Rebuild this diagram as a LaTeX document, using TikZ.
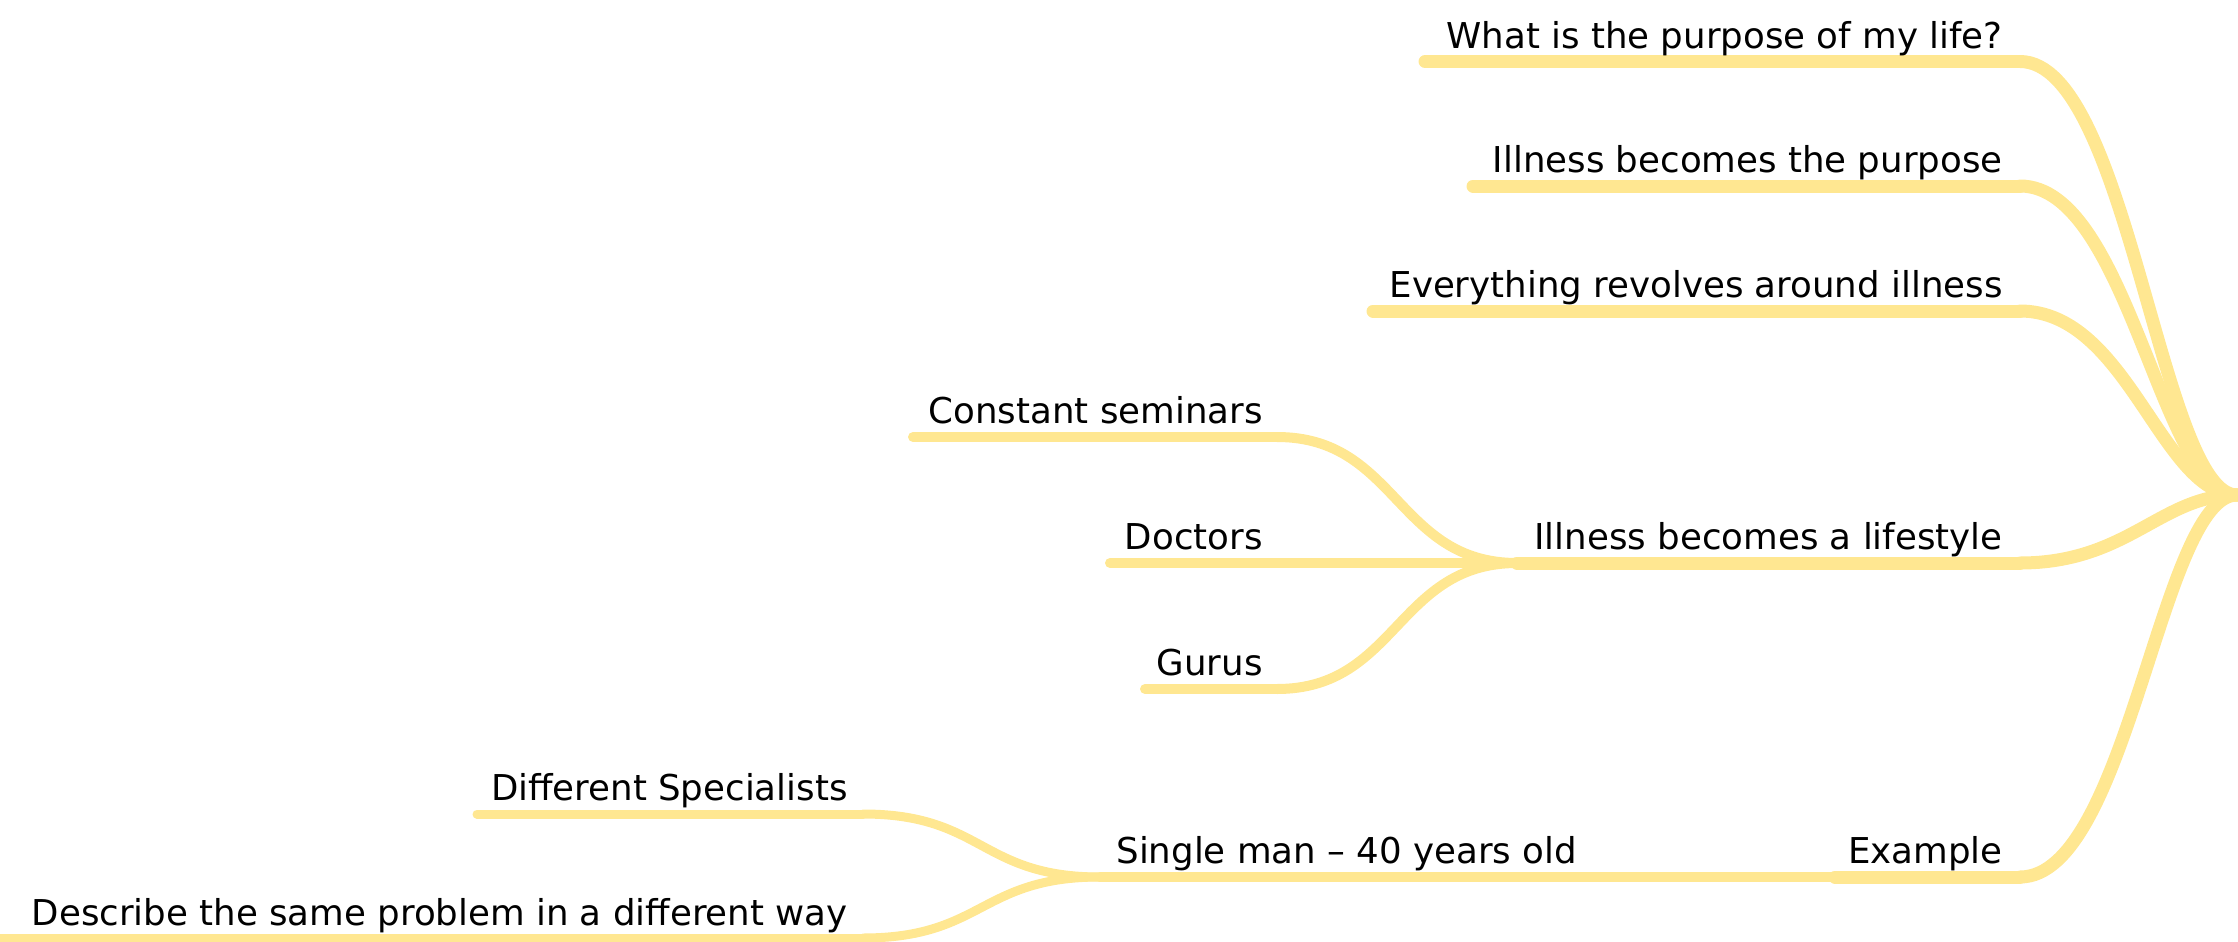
\documentclass[tikz,border=0pt]{standalone}
\usepackage{fontspec}
\setmainfont{DejaVu Sans}
\definecolor{br}{RGB}{255,231,145}
\begin{document}
\begin{tikzpicture}[x=0.5pt,y=-0.5pt,
  lv1/.style={draw=br,line width=6.5pt,line cap=round},
  lv2/.style={draw=br,line width=5pt,line cap=round},
  lv3/.style={draw=br,line width=4.5pt,line cap=round},
  lbl/.style={font=\fontsize{17.8pt}{21pt}\selectfont, inner sep=0pt, anchor=base east, text=black},
  lbll/.style={lbl, anchor=base west},
  mainconn/.style={out=0,in=180,out distance=54pt,in distance=38pt},
  subconn/.style={out=0,in=180,out distance=60pt,in distance=60pt}]
\useasboundingbox (0,0) rectangle (2238,942);

% root point (off-picture root node)
\coordinate (root) at (2237,495);

% main branches
\coordinate (m1L) at (1425,61.5);  \coordinate (m1R) at (2020,61.5);
\coordinate (m2L) at (1473,186);   \coordinate (m2R) at (2020,186);
\coordinate (m3L) at (1373,311);   \coordinate (m3R) at (2020,311);
\coordinate (m4L) at (1517,563);   \coordinate (m4R) at (2020,563);
\coordinate (m5L) at (1835,877);   \coordinate (m5R) at (2020,877);

% lifestyle children
\coordinate (c1L) at (913,437);    \coordinate (c1R) at (1277,437);
\coordinate (c2L) at (1110,563);   \coordinate (c2R) at (1277,563);
\coordinate (c3L) at (1145,689);   \coordinate (c3R) at (1277,689);

% example child
\coordinate (sL) at (1100,877);    \coordinate (sR) at (1598,877);

% single man children
\coordinate (d1L) at (477,814);    \coordinate (d1R) at (863,814);
\coordinate (d2L) at (-5,938);     \coordinate (d2R) at (863,938);

% ---- lines: level 1
\draw[lv1] (m1L) -- (m1R);
\draw[lv1] (m2L) -- (m2R);
\draw[lv1] (m3L) -- (m3R);
\draw[lv1] (m4L) -- (m4R);
\draw[lv1] (m5L) -- (m5R);
\draw[lv1] (m1R) to[mainconn] (root);
\draw[lv1] (m2R) to[mainconn] (root);
\draw[lv1] (m3R) to[mainconn] (root);
\draw[lv1] (m4R) to[mainconn] (root);
\draw[lv1] (m5R) to[mainconn] (root);

% ---- level 2
\draw[lv2] (c1L) -- (c1R);
\draw[lv2] (c2L) -- (c2R);
\draw[lv2] (c3L) -- (c3R);
\draw[lv2] (c1R) to[subconn] (m4L);
\draw[lv2] (c2R) -- (m4L);
\draw[lv2] (c3R) to[subconn] (m4L);
\draw[lv2] (sL) -- (sR);
\draw[lv2] (sR) -- (m5L);

% ---- level 3
\draw[lv3] (d1L) -- (d1R);
\draw[lv3] (d2L) -- (d2R);
\draw[lv3] (d1R) to[subconn] (sL);
\draw[lv3] (d2R) to[subconn] (sL);

% ---- labels
\node[lbl] (t1) at (2003,48) {What is the purpose of my life?};
\node[lbl] (t2) at (2003,172.5) {Illness becomes the purpose};
\node[lbl] (t3) at (2003,297.5) {Everything revolves around illness};
\node[lbl] (t4) at (2003,549.5) {Illness becomes a lifestyle};
\node[lbl] (t5) at (2003,863.5) {Example};
\node[lbl] (tc1) at (1263,423.5) {Constant seminars};
\node[lbl] (tc2) at (1263,549.5) {Doctors};
\node[lbl] (tc3) at (1263,675.5) {Gurus};
\node[lbll] (ts) at (1116,863.5) {Single man – 40 years old};
\node[lbl] (td1) at (848,800.5) {Different Specialists};
\node[lbl] (td2) at (848,925) {Describe the same problem in a different way};
\end{tikzpicture}
\end{document}
